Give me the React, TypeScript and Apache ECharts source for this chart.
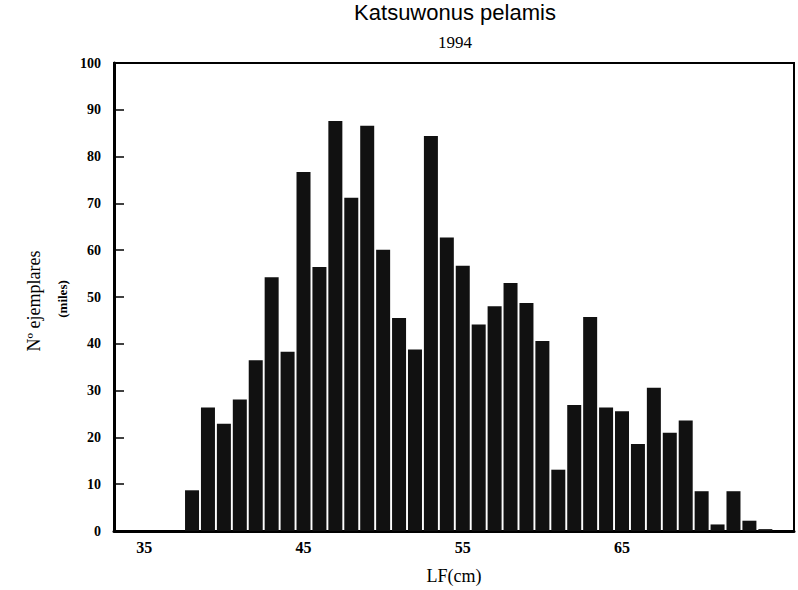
import React, { useEffect, useRef } from "react";
import * as echarts from "echarts";

const titleText = "Katsuwonus pelamis";
const subtitleText = "1994";
const xAxisTitle = "LF(cm)";
const yAxisTitle = "Nº ejemplares";
const yAxisUnit = "(miles)";

// Fork length classes (cm)
const lengths = [
  38, 39, 40, 41, 42, 43, 44, 45, 46, 47, 48, 49, 50, 51, 52, 53, 54, 55, 56,
  57, 58, 59, 60, 61, 62, 63, 64, 65, 66, 67, 68, 69, 70, 71, 72, 73, 74,
];
// Number of specimens (thousands)
const counts = [
  8.7, 26.4, 22.9, 28.1, 36.5, 54.2, 38.3, 76.7, 56.4, 87.6, 71.2, 86.6, 60.1,
  45.5, 38.8, 84.4, 62.7, 56.7, 44.1, 48.0, 53.0, 48.7, 40.6, 13.1, 26.9, 45.7,
  26.4, 25.6, 18.6, 30.6, 21.0, 23.6, 8.5, 1.4, 8.5, 2.2, 0.4,
];
const xTickLabels = [35, 45, 55, 65];
const yMin = 0;
const yMax = 100;
const yStep = 10;
const xMin = 33.1;
const xMax = 75.8;

export default function App() {
  const ref = useRef<HTMLDivElement>(null);
  useEffect(() => {
    if (!ref.current) return;
    const chart = echarts.init(ref.current, null, { renderer: "svg" });
    const serif = "'Liberation Serif', 'Times New Roman', serif";
    const sans = "'Liberation Sans', Arial, sans-serif";
    chart.setOption({
      animation: false,
      backgroundColor: "#ffffff",
      grid: {
        left: 114,
        right: 4,
        top: 63,
        bottom: 59,
        show: true,
        borderColor: "#000",
        borderWidth: 2,
        backgroundColor: "transparent",
      },
      xAxis: {
        type: "value",
        min: xMin,
        max: xMax,
        name: xAxisTitle,
        nameLocation: "middle",
        nameGap: 36,
        nameTextStyle: { fontFamily: serif, fontSize: 18, color: "#000" },
        axisLine: { show: true, lineStyle: { color: "#000", width: 3 } },
        axisTick: { show: false },
        splitLine: { show: false },
        axisLabel: {
          customValues: xTickLabels,
          fontFamily: serif,
          fontWeight: "bold",
          fontSize: 16,
          color: "#000",
          margin: 8,
        },
      },
      yAxis: {
        type: "value",
        min: yMin,
        max: yMax,
        interval: yStep,
        axisLine: { show: true, lineStyle: { color: "#000", width: 3 } },
        axisTick: {
          show: true,
          inside: true,
          length: 10,
          lineStyle: { color: "#000", width: 1.5 },
        },
        splitLine: { show: false },
        axisLabel: {
          fontFamily: serif,
          fontWeight: "bold",
          fontSize: 14,
          color: "#000",
          margin: 13,
        },
      },
      series: [
        {
          type: "bar",
          data: lengths.map((l, i) => [l, counts[i]]),
          barWidth: 14,
          itemStyle: { color: "#111111" },
        },
      ],
      graphic: [
        {
          type: "text",
          x: 455,
          y: 12.5,
          style: {
            text: titleText,
            font: `22px ${sans}`,
            fill: "#000",
            align: "center",
            verticalAlign: "middle",
            textAlign: "center",
            textVerticalAlign: "middle",
          },
        },
        {
          type: "text",
          x: 455,
          y: 42.5,
          style: {
            text: subtitleText,
            font: `17px ${serif}`,
            fill: "#000",
            align: "center",
            verticalAlign: "middle",
            textAlign: "center",
            textVerticalAlign: "middle",
          },
        },
        {
          type: "text",
          x: 34,
          y: 301,
          rotation: Math.PI / 2,
          style: {
            text: yAxisTitle,
            font: `18px ${serif}`,
            fill: "#000",
            align: "center",
            verticalAlign: "middle",
            textAlign: "center",
            textVerticalAlign: "middle",
          },
        },
        {
          type: "text",
          x: 62.5,
          y: 299,
          rotation: Math.PI / 2,
          style: {
            text: yAxisUnit,
            font: `bold 13px ${serif}`,
            fill: "#000",
            align: "center",
            verticalAlign: "middle",
            textAlign: "center",
            textVerticalAlign: "middle",
          },
        },
      ],
    });
    return () => chart.dispose();
  }, []);
  return (
    <div
      ref={ref}
      style={{ position: "fixed", left: 0, top: 0, width: 798, height: 590, background: "#fff" }}
    />
  );
}
